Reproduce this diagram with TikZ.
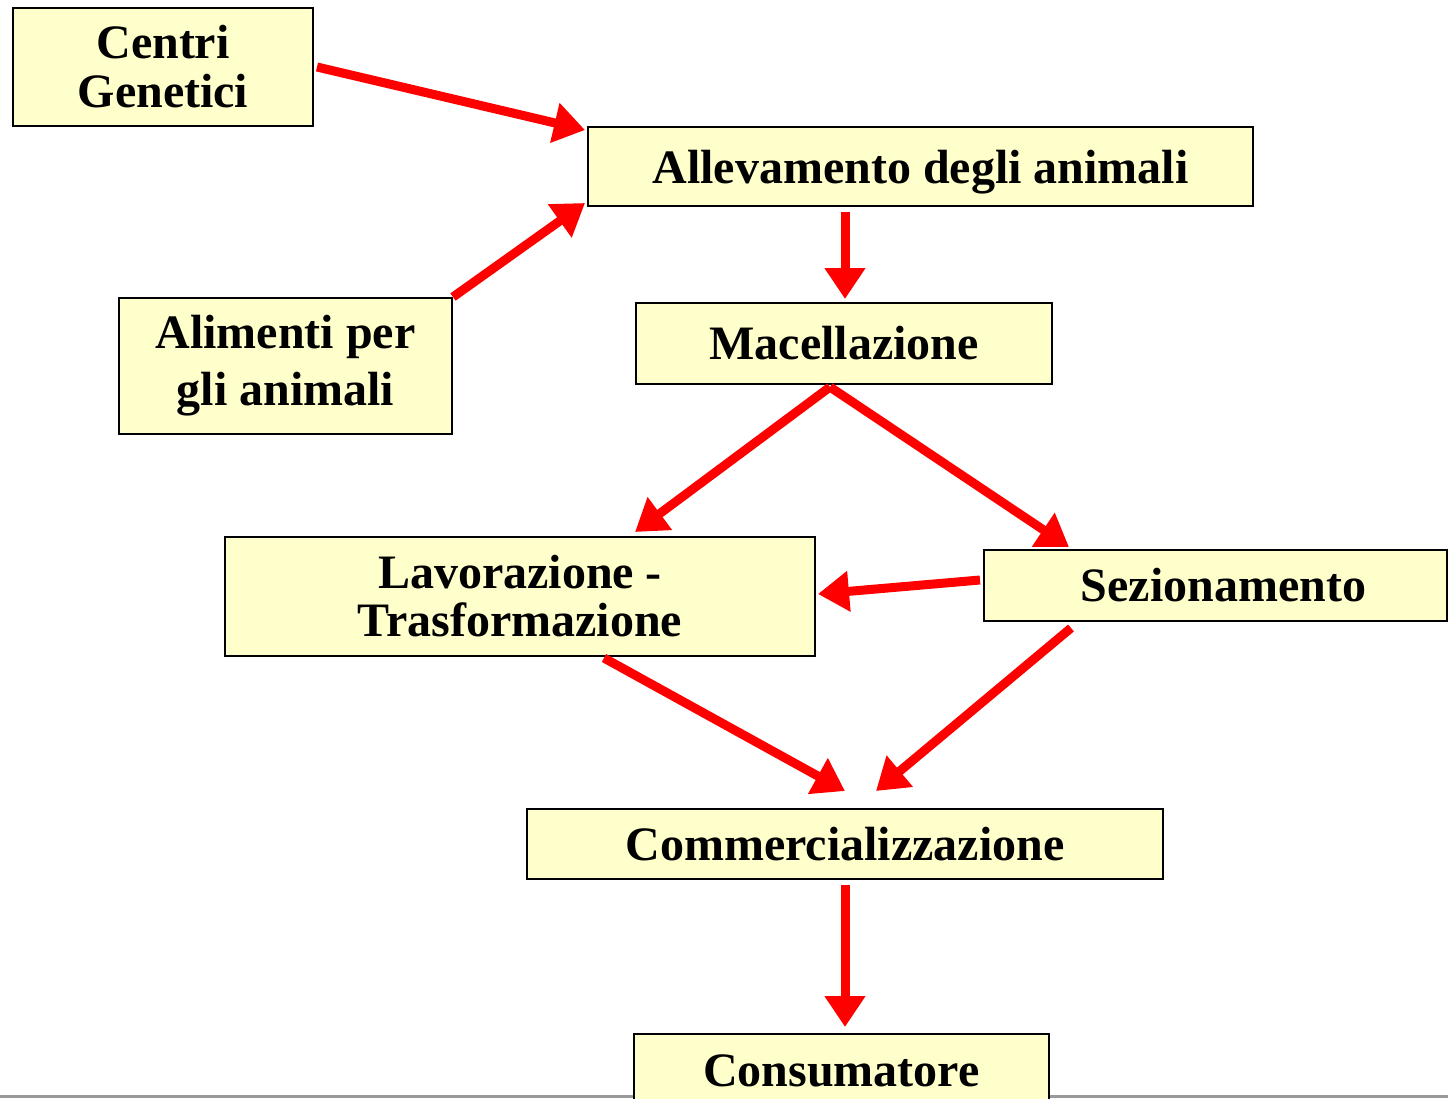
\documentclass[tikz,border=0pt]{standalone}
\usepackage{fontspec}
\setmainfont{Liberation Serif}
\usetikzlibrary{arrows.meta}
\definecolor{boxfill}{HTML}{FFFFCC}
\definecolor{arrred}{HTML}{FF0000}
\begin{document}
\begin{tikzpicture}[x=1pt,y=-1pt,
  box/.style={draw=black,line width=2pt,fill=boxfill,inner sep=0pt,align=center,
    font=\fontsize{48}{49}\selectfont\bfseries},
  flow/.style={draw=arrred,line width=9pt,-{Triangle[length=31pt,width=39pt]}}]
\clip (0,0) rectangle (1448,1098);
\fill[white] (0,0) rectangle (1448,1098);
\draw[line width=3pt,gray!80] (0,1096.5) -- (1448,1096.5);
\node[box,minimum width=300pt,minimum height=118pt] (cg) at (163,67) {Centri\\Genetici};
\node[box,minimum width=665pt,minimum height=79pt,text height=40pt,text depth=7pt] (all) at (920.5,166.5) {Allevamento degli animali};
\node[box,minimum width=333pt,minimum height=136pt,font=\fontsize{48}{57}\selectfont\bfseries] (ali) at (285.5,366) {Alimenti per\\gli animali};
\node[box,minimum width=416pt,minimum height=81pt] (mac) at (844,343.5) {Macellazione};
\node[box,minimum width=590pt,minimum height=119pt,font=\fontsize{48}{48}\selectfont\bfseries] (lav) at (520,596.5) {Lavorazione -\\Trasformazione};
\node[box,minimum width=463pt,minimum height=71pt] (sez) at (1215.5,585.5) {\hspace*{16pt}Sezionamento};
\node[box,minimum width=636pt,minimum height=70pt] (com) at (845,844) {Commercializzazione};
\node[box,minimum width=415pt,minimum height=74pt] (con) at (841.5,1071) {Consumatore};
% connectors
\draw[flow] ([xshift=3pt]cg.east) -- ([xshift=-2pt,yshift=-4pt]all.north west);
\draw[flow] (ali.north east) -- ([xshift=-2pt,yshift=4pt]all.south west);
\draw[flow] ([xshift=-75.5pt,yshift=-5pt]all.south) -- ([xshift=1pt,yshift=3pt]mac.north);
\draw[flow] ([xshift=-14pt,yshift=-2pt]mac.south) -- ([xshift=411pt,yshift=4pt]lav.north west);
\draw[flow] ([xshift=-14pt,yshift=-2pt]mac.south) -- ([xshift=86pt,yshift=2pt]sez.north west);
\draw[flow] ([xshift=-3pt,yshift=5.5pt]sez.west) -- ([xshift=2pt,yshift=2.5pt]lav.east);
\draw[flow] ([xshift=84pt,yshift=-1pt]lav.south) -- ([yshift=17pt]com.north);
\draw[flow] ([xshift=88pt,yshift=-6pt]sez.south west) -- ([xshift=31pt,yshift=17pt]com.north);
\draw[flow] ([yshift=-5pt]com.south) -- ([xshift=3.5pt,yshift=6pt]con.north);
\end{tikzpicture}
\end{document}
